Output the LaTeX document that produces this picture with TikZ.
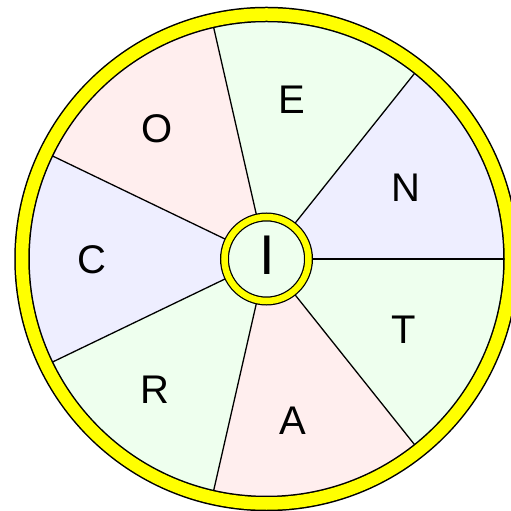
\documentclass[tikz,border=0pt]{standalone}
\usepackage{fontspec}
\setmainfont{Liberation Sans}
\definecolor{lav}{HTML}{EEEEFF}
\definecolor{grn}{HTML}{EEFFEE}
\definecolor{pnk}{HTML}{FFEEEE}
\definecolor{ringy}{HTML}{FFFF00}
\begin{document}
\begin{tikzpicture}[x=1pt,y=1pt,
  sector/.style={draw=black,line width=1.3pt,line join=round},
  letter/.style={font=\fontsize{40}{48}\selectfont,inner sep=0pt}]
\useasboundingbox (0,0) rectangle (511,511);
\clip (0,0) rectangle (511,511);
\coordinate (c) at (266.5,252);
\def\R{240}
% sectors
\foreach \a/\col in {0/lav,1/grn,2/pnk,3/lav,4/grn,5/pnk,6/grn}{
  \fill[\col] (c) -- ++({\a*360/7}:\R) arc[start angle={\a*360/7},delta angle={360/7},radius=\R] -- cycle;
}
\foreach \a in {0,...,6}{
  \draw[line width=1.3pt] (c) -- ++({\a*360/7}:\R);
}
% outer ring
\draw[black,line width=15.5pt] (c) circle[radius=244.5];
\draw[ringy,line width=12.5pt] (c) circle[radius=244.5];
% inner ring
\fill[grn] (c) circle[radius=42];
\draw[black,line width=9pt] (c) circle[radius=42];
\draw[ringy,line width=6.5pt] (c) circle[radius=42];
% letters
\node[letter] (n) at (405.5,323) {N};
\node[letter] (e) at (292,411) {E};
\node[letter] (o) at (156.7,382) {O};
\node[letter] (cc) at (91.7,251.3) {C};
\node[letter] (r) at (155,121) {R};
\node[letter] (aa) at (293.3,90.5) {A};
\node[letter] (t) at (403.8,181) {T};
\node[inner sep=0pt,font=\fontsize{56}{60}\selectfont] (i) at (267,256) {I};
\end{tikzpicture}
\end{document}
